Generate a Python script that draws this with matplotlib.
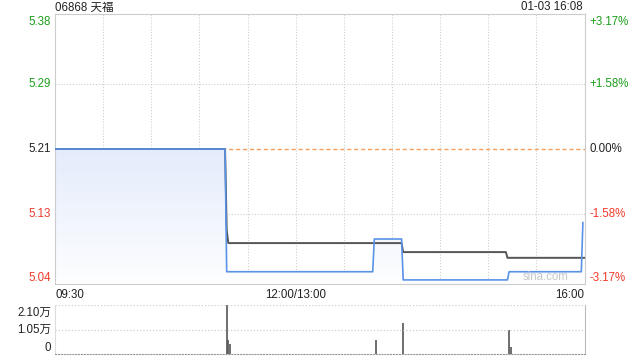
import numpy as np
import matplotlib

matplotlib.use("Agg")
import matplotlib.pyplot as plt  # noqa: E402
from matplotlib.colors import to_rgb  # noqa: E402
from matplotlib.transforms import blended_transform_factory  # noqa: E402

plt.rcParams["font.family"] = ["Liberation Sans", "Noto Sans CJK SC", "DejaVu Sans"]

# --- data (minutes since 09:30, lunch break removed) ---
TITLE = "06868 天福"
STAMP = "01-03 16:08"
PREV_CLOSE = 5.21
PRICE_TICKS = [5.04, 5.13, 5.21, 5.29, 5.38]
PCT_TICKS = ["-3.17%", "-1.58%", "0.00%", "+1.58%", "+3.17%"]
Y_LO, Y_HI = 5.045, 5.375

GRID_MIN = [30, 60, 90, 120, 150, 180, 210, 240, 270, 300]
LABEL_MIN = [0, 150, 330]
TIME_LABELS = ["09:30", "12:00/13:00", "16:00"]

PRICE_MIN = [0, 106, 107, 198, 199, 216, 217, 282, 283, 328, 329]
PRICE = [5.21, 5.21, 5.06, 5.06, 5.10, 5.10, 5.05, 5.05, 5.06, 5.06, 5.12]

AVG_MIN = [0, 106, 107, 108, 216, 217, 281, 282, 330]
AVG = [5.21, 5.21, 5.111, 5.095, 5.095, 5.084, 5.084, 5.077, 5.077]

VOL_MIN = [107, 108, 109, 200, 217, 283, 284]
VOL = [21000, 6000, 4300, 6000, 13300, 10400, 3000]
VOL_TICKS = [0, 10500, 21000]
VOL_LABELS = ["0", "1.05万", "2.10万"]

GREEN = "#1a9e1a"
RED = "#f03a2a"
BLUE = "#5a92e8"
GRID = "#cfcfcf"
DOT = (0, (1, 1.6))
FS = 8.3

fig = plt.figure(figsize=(6.4, 3.6), dpi=100)
ax = fig.add_axes([55 / 640, 1 - 284 / 360, 529.5 / 640, 270 / 360])
axv = fig.add_axes([55 / 640, 1 - 354 / 360, 529.5 / 640, 49 / 360])

# --- price panel ---
ax.set_xlim(0, 330)
ax.set_ylim(Y_LO, Y_HI)
for m in GRID_MIN:
    ax.axvline(m, color=GRID, lw=0.8, ls=DOT, zorder=1)
for p in (5.13, 5.29):
    ax.axhline(p, color=GRID, lw=0.8, ls=DOT, zorder=1)
ax.axhline(PREV_CLOSE, color="#f3a062", lw=1.0, ls=(0, (3, 2)), zorder=1)

# gradient fill under the price line
poly = ax.fill_between(PRICE_MIN, PRICE, Y_LO, color="none", lw=0)
top_c = np.array(to_rgb("#e4ecfb"))
bot_c = np.array(to_rgb("#fdfeff"))
t = np.linspace(0, 1, 256)[:, None]
grad = (top_c * (1 - t) + bot_c * t)[:, None, :]
im = ax.imshow(grad, extent=[0, 330, Y_LO, PREV_CLOSE], aspect="auto",
               origin="upper", zorder=2)
im.set_clip_path(poly.get_paths()[0], transform=ax.transData)

ax.plot(PRICE_MIN, PRICE, color=BLUE, lw=1.2, zorder=4)
ax.plot(AVG_MIN, AVG, color="#555555", lw=1.4, zorder=3)

for s in ax.spines.values():
    s.set_color("#cccccc")
ax.set_xticks([])
ax.set_yticks([])

tr = blended_transform_factory(ax.transAxes, ax.transData)
colors = [RED, RED, "#222222", GREEN, GREEN]
for i, (p, pct, c) in enumerate(zip(PRICE_TICKS, PCT_TICKS, colors)):
    va = "bottom" if i == 0 else ("top" if i == len(PRICE_TICKS) - 1 else "center")
    yy = Y_LO if i == 0 else (Y_HI if i == len(PRICE_TICKS) - 1 else p)
    yoff = -0.003 if va == "top" else (0.0 if va == "bottom" else 0)
    ax.text(-4 / 529.5, yy + yoff, f"{p:.2f}", color=c, fontsize=FS,
            ha="right", va=va, transform=tr, clip_on=False)
    ax.text(1 + 5 / 529.5, yy + yoff, pct, color=c, fontsize=FS,
            ha="left", va=va, transform=tr, clip_on=False)

for m, lab in zip(LABEL_MIN, TIME_LABELS):
    ha = "left" if m == 0 else ("right" if m == 330 else "center")
    ax.text(m, Y_LO - 0.006, lab, fontsize=FS, ha=ha, va="top",
            color="#222222", clip_on=False)

ax.text(320, Y_LO + 0.0015, "sina.com", fontsize=FS, color="#c8c8c8",
        ha="right", va="bottom", zorder=5)

fig.text(55 / 640, 1 - 7.5 / 360, TITLE, fontsize=FS, ha="left", va="center",
         color="#222222")
fig.text(583 / 640, 1 - 7.5 / 360, STAMP, fontsize=FS, ha="right", va="center",
         color="#222222")

# --- volume panel ---
axv.set_xlim(0, 330)
axv.set_ylim(0, 21000)
axv.vlines(VOL_MIN, 0, VOL, color="#555555", lw=1.2)
axv.axhline(10500, color=GRID, lw=0.9, ls=DOT)
axv.axhline(21000, color=GRID, lw=0.9, ls=DOT)
axv.spines["top"].set_visible(False)
axv.spines["left"].set_color("#dddddd")
axv.spines["right"].set_color("#bbbbbb")
axv.spines["bottom"].set_color("#999999")
axv.spines["bottom"].set_linestyle(DOT)
axv.set_xticks([])
axv.set_yticks([])
for i, (v, lab) in enumerate(zip(VOL_TICKS, VOL_LABELS)):
    va = "bottom" if i == 0 else ("top" if i == len(VOL_TICKS) - 1 else "center")
    off = 200 if i == 0 else (-900 if i == len(VOL_TICKS) - 1 else 0)
    axv.text(-4 / 529.5 * 330, v + off, lab, fontsize=FS, ha="right", va=va,
             color="#222222", clip_on=False)

fig.savefig("out.png", dpi=100)
